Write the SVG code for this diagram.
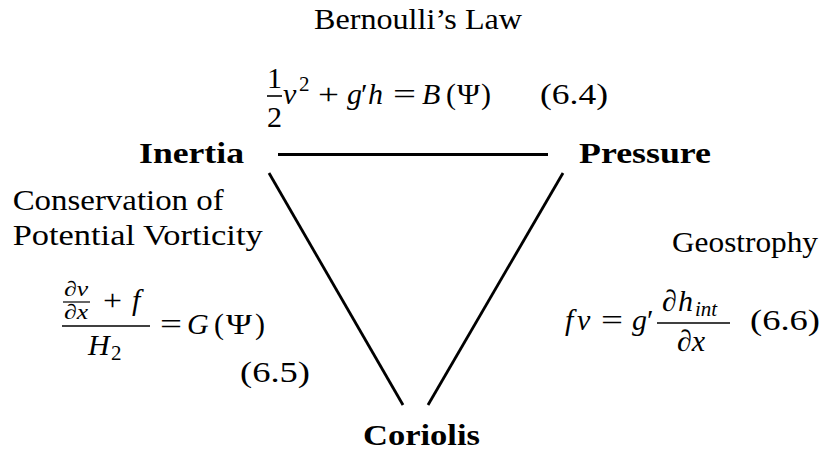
<svg xmlns="http://www.w3.org/2000/svg" width="830" height="456" viewBox="0 0 830 456" font-family="'Liberation Serif', serif" font-size="30">
<style>
text{font-family:"Liberation Serif","Times New Roman",serif;font-size:30px;fill:#000}
.b{font-weight:bold}
.i{font-style:italic}
.s{font-size:21px}
.m{text-anchor:middle}
.edge{stroke:#000;stroke-width:2.8;fill:none}
.rule{stroke:#000;stroke-width:1.6}
.rs{stroke:#000;stroke-width:1.2}
</style>
<rect width="830" height="456" fill="#fff"/>
<g id="connectors">
<line class="edge" x1="278" y1="154.5" x2="548" y2="154.5"/>
<line class="edge" x1="269" y1="173" x2="403" y2="405"/>
<line class="edge" x1="563" y1="173" x2="428" y2="405"/>
</g>
<g id="node-inertia"><text class="b" x="139" y="163" textLength="105" lengthAdjust="spacingAndGlyphs">Inertia</text></g>
<g id="node-pressure"><text class="b" x="579" y="163" textLength="132" lengthAdjust="spacingAndGlyphs">Pressure</text></g>
<g id="node-coriolis"><text class="b" x="363" y="445" textLength="117" lengthAdjust="spacingAndGlyphs">Coriolis</text></g>
<g id="label-bernoulli">
<text x="314" y="29" textLength="208" lengthAdjust="spacingAndGlyphs">Bernoulli’s Law</text>
<text class="m" x="274.5" y="88">1</text>
<line class="rule" x1="267" y1="96" x2="282" y2="96"/>
<text class="m" x="274.5" y="127">2</text>
<text class="i" x="283" y="104">v</text>
<text class="s" x="299" y="91">2</text>
<text x="318" y="104" textLength="21" lengthAdjust="spacingAndGlyphs">+</text>
<text class="i" x="347" y="104">g</text>
<text x="361" y="104">′</text>
<text class="i" x="368" y="104">h</text>
<text x="393" y="104" textLength="23" lengthAdjust="spacingAndGlyphs">=</text>
<text class="i" x="422" y="104">B</text>
<text x="446" y="104">(</text>
<text x="457" y="104" textLength="23" lengthAdjust="spacingAndGlyphs">Ψ</text>
<text x="481" y="104">)</text>
<text x="540" y="104" textLength="68" lengthAdjust="spacingAndGlyphs">(6.4)</text>
</g>
<g id="label-vorticity">
<text x="12.7" y="210" textLength="211" lengthAdjust="spacingAndGlyphs">Conservation of</text>
<text x="12.7" y="245" textLength="250" lengthAdjust="spacingAndGlyphs">Potential Vorticity</text>
<text class="s" x="64" y="296" textLength="24" lengthAdjust="spacingAndGlyphs">∂<tspan class="i">v</tspan></text>
<line class="rs" x1="63" y1="302" x2="90" y2="302"/>
<text class="s" x="64" y="319" textLength="24" lengthAdjust="spacingAndGlyphs">∂<tspan class="i">x</tspan></text>
<text x="103" y="310" textLength="19" lengthAdjust="spacingAndGlyphs">+</text>
<text class="i" x="132" y="310">f</text>
<line class="rule" x1="62" y1="326" x2="150" y2="326"/>
<text class="i" x="88" y="355">H</text>
<text class="s" x="111" y="360">2</text>
<text x="160" y="334" textLength="22" lengthAdjust="spacingAndGlyphs">=</text>
<text class="i" x="187" y="334">G</text>
<text x="214" y="334">(</text>
<text x="226" y="334" textLength="26" lengthAdjust="spacingAndGlyphs">Ψ</text>
<text x="255" y="334">)</text>
<text x="240" y="382" textLength="70" lengthAdjust="spacingAndGlyphs">(6.5)</text>
</g>
<g id="label-geostrophy">
<text x="672" y="252" textLength="146" lengthAdjust="spacingAndGlyphs">Geostrophy</text>
<text class="i" x="565" y="330">f</text>
<text class="i" x="577" y="330">v</text>
<text x="601" y="330" textLength="22" lengthAdjust="spacingAndGlyphs">=</text>
<text class="i" x="632" y="330">g</text>
<text x="647" y="330">′</text>
<text x="662" y="311">∂</text>
<text class="i" x="678" y="311">h</text>
<text class="s i" x="695" y="316">int</text>
<line class="rule" x1="657" y1="323" x2="730" y2="323"/>
<text x="677" y="351">∂<tspan class="i">x</tspan></text>
<text x="750" y="330" textLength="70" lengthAdjust="spacingAndGlyphs">(6.6)</text>
</g>
</svg>
